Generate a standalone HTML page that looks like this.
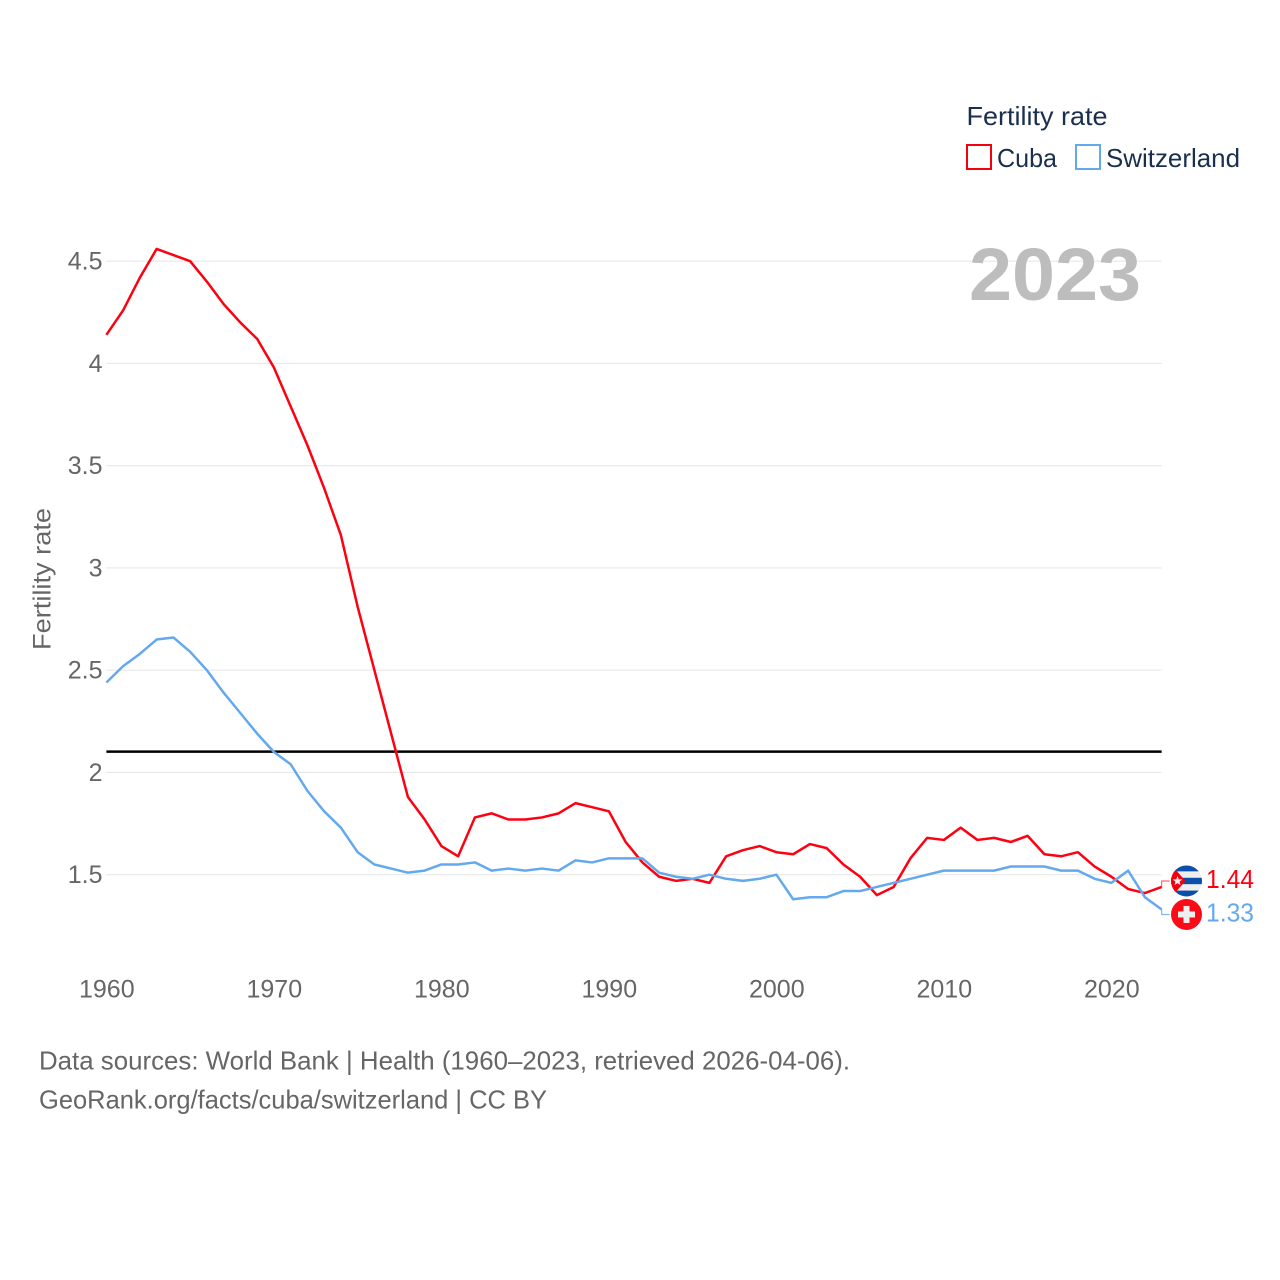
<!DOCTYPE html>
<html lang="en">
<head>
<meta charset="utf-8">
<title>Fertility rate: Cuba and Switzerland</title>
<style>
  html, body { margin: 0; padding: 0; background: #fff; }
  svg { display: block; font-family: "Liberation Sans", sans-serif; }
  .tick { font-size: 25px; fill: #666; }
</style>
</head>
<body>
<svg id="chart" xmlns="http://www.w3.org/2000/svg" width="1280" height="1280" viewBox="0 0 1280 1280">
  <rect x="0" y="0" width="1280" height="1280" fill="#fff"/>

  <g id="grid"></g>
  <g id="y-ticks"></g>
  <g id="x-ticks"></g>

  <text transform="translate(50.5,579) rotate(-90)" text-anchor="middle" font-size="25" fill="#666" textLength="142" lengthAdjust="spacingAndGlyphs">Fertility rate</text>

  <text x="969" y="300" font-size="74" font-weight="700" fill="#bdbdbd" textLength="172" lengthAdjust="spacingAndGlyphs">2023</text>

  <g>
    <text x="966.5" y="125" font-size="26" fill="#1a2f4d" textLength="141" lengthAdjust="spacingAndGlyphs">Fertility rate</text>
    <g>
      <rect x="967" y="145" width="24" height="24" fill="#fff" stroke="#f5000f" stroke-width="2"/>
      <text x="997" y="167" font-size="26" fill="#1a2f4d" textLength="60" lengthAdjust="spacingAndGlyphs">Cuba</text>
    </g>
    <g>
      <rect x="1076" y="145" width="24" height="24" fill="#fff" stroke="#64a9ee" stroke-width="2"/>
      <text x="1106" y="167" font-size="26" fill="#1a2f4d" textLength="134" lengthAdjust="spacingAndGlyphs">Switzerland</text>
    </g>
  </g>

  <line id="ref-line" stroke="#000" stroke-width="2.5"/>
  <polyline id="line-cuba" fill="none" stroke="#ff0011" stroke-width="2.5" stroke-linejoin="round"/>
  <polyline id="line-switzerland" fill="none" stroke="#64a9ee" stroke-width="2.5" stroke-linejoin="round"/>

  <polyline id="connector-cuba" fill="none" stroke="#ff0011" stroke-opacity="0.6" stroke-width="1.2"/>
  <polyline id="connector-switzerland" fill="none" stroke="#64a9ee" stroke-opacity="0.8" stroke-width="1.2"/>

  <defs>
    <clipPath id="flag-clip"><circle cx="0" cy="0" r="15.5"/></clipPath>
  </defs>

  <g id="flag-cuba">
    <g clip-path="url(#flag-clip)">
      <rect x="-16" y="-16" width="32" height="32" fill="#eeeeee"/>
      <rect x="-16" y="-16" width="32" height="6.4" fill="#0a50a8"/>
      <rect x="-16" y="-3.2" width="32" height="6.4" fill="#0a50a8"/>
      <rect x="-16" y="9.6" width="32" height="6.4" fill="#0a50a8"/>
      <polygon points="-16,-17 -1,0 -16,17" fill="#f5000f"/>
      <polygon points="-9,-5 -7.7,-1.6 -4.2,-1.6 -7,0.7 -6,4.2 -9,2.2 -12,4.2 -11,0.7 -13.8,-1.6 -10.3,-1.6" fill="#eeeeee"/>
    </g>
  </g>
  <g id="flag-switzerland">
    <circle cx="0" cy="0" r="15.5" fill="#fb0a17"/>
    <rect x="-3" y="-8.5" width="6" height="17" fill="#eeeeee"/>
    <rect x="-8.5" y="-3" width="17" height="6" fill="#eeeeee"/>
  </g>

  <text id="value-cuba" x="1206" font-size="26" fill="#ff0011" textLength="48" lengthAdjust="spacingAndGlyphs"></text>
  <text id="value-switzerland" x="1206" font-size="26" fill="#64a9ee" textLength="48" lengthAdjust="spacingAndGlyphs"></text>

  <g>
    <text x="39" y="1069.5" font-size="26" fill="#666" textLength="811" lengthAdjust="spacingAndGlyphs">Data sources: World Bank | Health (1960–2023, retrieved 2026-04-06).</text>
    <text x="39" y="1108.5" font-size="26" fill="#666" textLength="508" lengthAdjust="spacingAndGlyphs">GeoRank.org/facts/cuba/switzerland | CC BY</text>
  </g>
</svg>

<script>
const firstYear = 1960;
const cubaValues = [4.14,4.26,4.42,4.56,4.53,4.50,4.40,4.29,4.20,4.12,3.98,3.79,3.60,3.39,3.16,2.81,2.50,2.19,1.88,1.77,1.64,1.59,1.78,1.80,1.77,1.77,1.78,1.80,1.85,1.83,1.81,1.66,1.56,1.49,1.47,1.48,1.46,1.59,1.62,1.64,1.61,1.60,1.65,1.63,1.55,1.49,1.40,1.44,1.58,1.68,1.67,1.73,1.67,1.68,1.66,1.69,1.60,1.59,1.61,1.54,1.49,1.43,1.41,1.44];
const switzerlandValues = [2.44,2.52,2.58,2.65,2.66,2.59,2.50,2.39,2.29,2.19,2.10,2.04,1.91,1.81,1.73,1.61,1.55,1.53,1.51,1.52,1.55,1.55,1.56,1.52,1.53,1.52,1.53,1.52,1.57,1.56,1.58,1.58,1.58,1.51,1.49,1.48,1.50,1.48,1.47,1.48,1.50,1.38,1.39,1.39,1.42,1.42,1.44,1.46,1.48,1.50,1.52,1.52,1.52,1.52,1.54,1.54,1.54,1.52,1.52,1.48,1.46,1.52,1.39,1.33];
const yTickValues = [1.5,2,2.5,3,3.5,4,4.5];
const yTickLabels = ["1.5","2","2.5","3","3.5","4","4.5"];
const xTickYears = [1960,1970,1980,1990,2000,2010,2020];
const referenceRate = 2.1;

const NS = "http://www.w3.org/2000/svg";
const xOf = year => 106.4 + (year - 1960) * 16.75;
const yOf = value => 874.7 - (value - 1.5) * 204.5;
const plotLeft = xOf(1960);
const plotRight = xOf(2023);

function make(tag, parent, attrs, text) {
  const el = document.createElementNS(NS, tag);
  for (const k in attrs) el.setAttribute(k, attrs[k]);
  if (text !== undefined) el.textContent = text;
  parent.appendChild(el);
  return el;
}

const gridGroup = document.getElementById("grid");
const yGroup = document.getElementById("y-ticks");
const xGroup = document.getElementById("x-ticks");

yTickValues.forEach((v, i) => {
  const gl = make("line", gridGroup, {x1: plotLeft, x2: plotRight, y1: yOf(v), y2: yOf(v), stroke: "#e8e8e8", "stroke-width": 1.2});
  
  
  const t = make("text", yGroup, {x: 102.5, y: yOf(v) + 8.5, "text-anchor": "end", class: "tick"}, yTickLabels[i]);
  
  
});

xTickYears.forEach(year => {
  const t = make("text", xGroup, {x: xOf(year) + 0.4, y: 997.5, "text-anchor": "middle", class: "tick"}, String(year));
  
  
});

const refLine = document.getElementById("ref-line");
refLine.setAttribute("x1", plotLeft);
refLine.setAttribute("x2", plotRight);
refLine.setAttribute("y1", yOf(referenceRate) - 0.4);
refLine.setAttribute("y2", yOf(referenceRate) - 0.4);

function pointsFor(values) {
  return values.map((v, i) => xOf(firstYear + i).toFixed(2) + "," + yOf(v).toFixed(2)).join(" ");
}
document.getElementById("line-cuba").setAttribute("points", pointsFor(cubaValues));
document.getElementById("line-switzerland").setAttribute("points", pointsFor(switzerlandValues));

function endLabel(key, values, offset) {
  const last = values[values.length - 1];
  const endY = yOf(last);
  const labelY = endY + offset;
  document.getElementById("connector-" + key).setAttribute("points",
    plotRight + "," + endY + " " + plotRight + "," + labelY + " " + (plotRight + 8) + "," + labelY);
  document.getElementById("flag-" + key).setAttribute("transform", "translate(1186.5," + labelY + ")");
  const label = document.getElementById("value-" + key);
  label.setAttribute("y", labelY + 7.2);
  label.textContent = last.toFixed(2);
}
endLabel("cuba", cubaValues, -6);
endLabel("switzerland", switzerlandValues, 5);
</script>
</body>
</html>
